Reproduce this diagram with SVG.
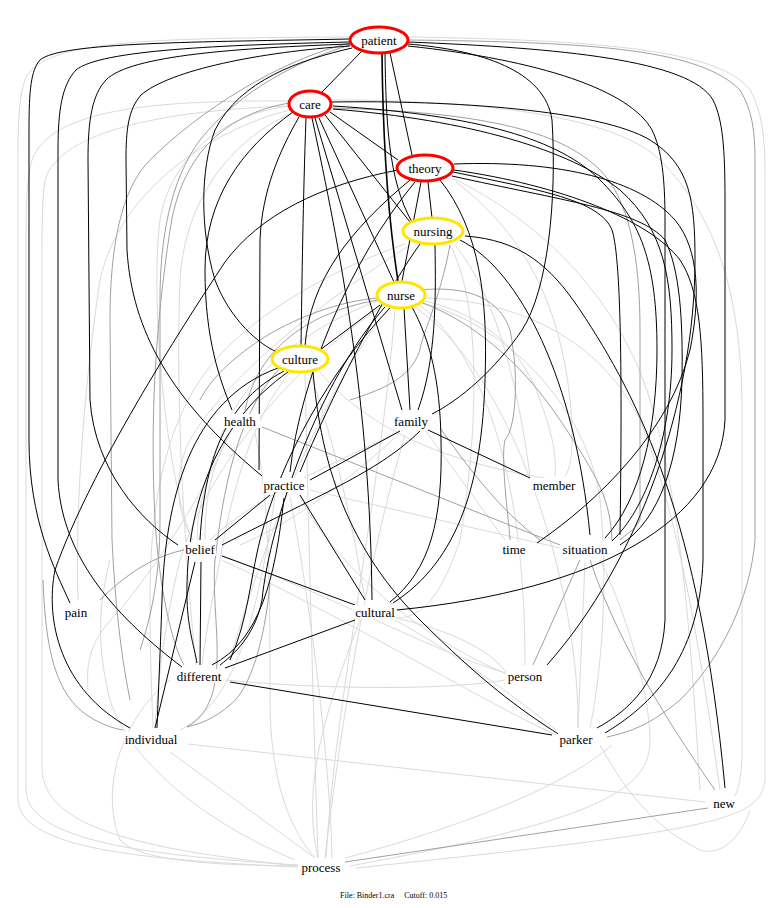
<svg xmlns="http://www.w3.org/2000/svg" width="780" height="908" viewBox="0 0 780 908">
<style>
.b{fill:none;stroke:#000;stroke-width:1}
.bb{fill:none;stroke:#000;stroke-width:1.6}
.g{fill:none;stroke:#a0a0a0;stroke-width:1}
.l{fill:none;stroke:#dadada;stroke-width:1}
.t{font-family:"Liberation Serif","Times New Roman",serif;font-size:13px;fill:#000;text-anchor:middle}
.red{fill:#fff;stroke:#f00;stroke-width:3}
.yel{fill:#fff;stroke:#ffe600;stroke-width:3}
.bg{fill:#fff}
</style>
<rect width="780" height="908" fill="#fff"/>
<g id="connectors">
<path class="l" d="M350,37 C150,38 40,40 25,80 C18,100 18,130 18,160 L18,800 C20,850 150,860 298,867"/>
<path class="l" d="M288,101 C150,100 50,110 32,160 C27,180 26,200 26,240 L26,790 C28,840 140,855 298,865"/>
<path class="l" d="M290,106 C170,110 60,130 45,180 C42,200 42,230 42,260 L42,770 C45,830 150,850 298,866"/>
<path class="l" d="M409,37 C600,40 720,50 750,90 C762,110 765,140 765,170 L765,780 C760,820 720,830 356,868"/>
<path class="l" d="M315,858 L170,752"/>
<path class="l" d="M188,744 L705,802"/>
<path class="l" d="M318,858 C315,760 310,600 305,372"/>
<path class="l" d="M326,858 C335,700 380,500 395,310"/>
<path class="l" d="M345,858 C450,830 560,790 612,745"/>
<path class="l" d="M295,860 C200,820 130,760 110,700 C95,640 100,600 110,560"/>
<path class="l" d="M310,490 L560,548"/>
<path class="l" d="M425,430 L505,540"/>
<path class="l" d="M420,305 C510,380 525,550 525,665"/>
<path class="l" d="M415,307 C520,380 580,600 578,728"/>
<path class="l" d="M585,562 L578,728"/>
<path class="l" d="M332,100 C500,100 620,120 660,160 C720,220 740,300 742,400 L742,760 C740,790 735,795 734,798"/>
<path class="l" d="M289,106 C220,115 170,160 160,220 C150,300 165,470 192,540"/>
<path class="l" d="M290,110 C210,130 120,190 100,280 C85,380 75,500 78,600"/>
<path class="l" d="M292,113 C230,140 185,200 180,280 C175,400 185,560 196,665"/>
<path class="l" d="M420,300 C470,310 520,340 540,400 C555,440 556,460 555,476"/>
<path class="l" d="M425,298 C520,300 600,340 640,420 C680,520 700,650 720,790"/>
<path class="l" d="M423,303 C520,330 590,420 600,500 C610,600 598,690 590,728"/>
<path class="l" d="M380,300 C300,330 240,380 220,440 C200,500 196,520 198,540"/>
<path class="l" d="M390,307 C330,380 270,520 230,660"/>
<path class="l" d="M384,305 C300,360 210,460 180,560 C165,620 158,680 155,728"/>
<path class="l" d="M405,435 C380,520 350,650 325,858"/>
<path class="l" d="M400,433 C360,470 300,520 240,545"/>
<path class="l" d="M395,434 C340,460 250,500 210,540"/>
<path class="l" d="M300,496 C330,560 420,640 510,675"/>
<path class="l" d="M220,555 C320,590 430,650 505,673"/>
<path class="l" d="M222,560 C350,620 480,700 556,735"/>
<path class="l" d="M225,680 C330,690 450,690 505,680"/>
<path class="l" d="M170,680 C120,720 100,790 120,840 C140,860 200,865 298,866"/>
<path class="l" d="M395,620 C450,650 520,700 556,730"/>
<path class="l" d="M395,618 C450,630 490,650 506,672"/>
<path class="l" d="M255,433 C270,500 270,600 270,700 C270,780 290,830 315,858"/>
<path class="l" d="M230,433 C200,500 160,560 120,610 C90,640 86,660 88,690"/>
<path class="l" d="M600,560 C630,620 650,700 650,740 C650,790 600,820 350,866"/>
<path class="l" d="M320,372 C360,420 430,460 545,478"/>
<path class="l" d="M455,245 C500,300 520,400 530,476"/>
<path class="l" d="M450,245 C480,300 480,420 460,540 C440,600 420,620 392,618"/>
<path class="l" d="M456,182 C520,230 560,300 570,400 C575,450 570,470 565,476"/>
<path class="l" d="M452,178 C540,220 620,300 650,400 C680,500 690,620 700,790"/>
<path class="l" d="M410,245 C340,290 230,370 190,440 C170,480 180,520 193,540"/>
<path class="l" d="M405,244 C330,270 240,320 200,380 C160,440 150,520 150,600 C150,660 152,700 153,728"/>
<path class="l" d="M290,372 C250,420 230,500 220,560 C210,610 205,640 202,665"/>
<path class="l" d="M310,372 C340,460 355,540 365,600"/>
<path class="l" d="M230,432 C210,470 205,500 205,540"/>
<path class="l" d="M275,496 C260,600 240,700 180,730"/>
<path class="l" d="M290,497 C310,600 330,760 332,858"/>
<path class="l" d="M360,620 C330,700 300,780 318,858"/>
<path class="l" d="M600,745 C630,800 660,830 700,850 C720,856 740,840 750,810"/>
<path class="g" d="M345,862 L708,808"/>
<path class="g" d="M262,427 L560,545"/>
<path class="g" d="M590,560 C620,650 680,740 715,790"/>
<path class="g" d="M580,560 L533,665"/>
<path class="g" d="M408,40 C600,42 700,50 740,90 C752,110 755,130 755,160 L755,540 C750,600 720,660 680,700 C650,725 630,732 607,737"/>
<path class="g" d="M350,43 C280,60 200,110 150,160 C120,190 110,250 110,320 L112,540 C115,600 120,650 130,700"/>
<path class="g" d="M350,45 C300,60 240,90 200,140 C170,180 160,240 160,300 L160,520 C160,580 150,620 140,650"/>
<path class="g" d="M289,103 C220,115 180,160 170,230 C155,330 150,420 155,520 C160,600 175,650 184,665"/>
<path class="g" d="M378,300 C320,310 260,340 245,410"/>
<path class="g" d="M380,298 C340,300 290,320 260,340 C230,360 210,380 200,400"/>
<path class="g" d="M420,290 C470,285 500,300 510,330 C520,380 515,430 505,440 C500,460 510,530 510,540"/>
<path class="g" d="M420,302 C470,320 520,360 560,420 C600,480 610,500 612,540"/>
<path class="g" d="M440,428 C470,470 500,510 540,540"/>
<path class="g" d="M332,108 C480,112 560,130 600,170 C630,200 640,260 640,330 L640,520 C635,530 625,535 620,540"/>
<path class="g" d="M280,368 C230,420 220,520 215,560 C210,620 235,700 187,727"/>
<path class="g" d="M43,580 C45,630 50,680 77,707 C90,720 110,728 123,730"/>
<path class="g" d="M270,583 C265,640 250,690 230,705 C215,718 200,724 187,727"/>
<path class="g" d="M212,548 C160,545 120,580 100,600"/>
<path class="g" d="M450,245 C440,300 420,340 420,350 C410,380 380,390 350,400"/>
</g>
<g id="connectors-strong">
<path class="b" d="M362,51 L322,92"/>
<path class="b" d="M350,39 C200,42 60,42 40,60 C31,70 29,90 29,130 L29,440 C29,520 55,570 70,603"/>
<path class="b" d="M350,42 C220,45 100,50 76,70 C62,85 58,110 58,150 L58,480 C62,560 120,620 182,667"/>
<path class="b" d="M350,44 C240,48 130,55 106,80 C92,95 88,120 88,160 L90,400 C95,470 140,520 178,545"/>
<path class="b" d="M350,46 C260,52 170,70 141,95 C128,110 126,130 126,160 L127,250 C132,330 170,400 262,476"/>
<path class="b" d="M352,48 C300,60 240,80 215,130 C200,170 200,230 215,280 C230,320 260,345 277,352"/>
<path class="b" d="M390,53 L412,155"/>
<path class="b" d="M385,54 C386,120 388,180 412,222"/>
<path class="bb" d="M382,54 C383,150 390,230 398,281"/>
<path class="b" d="M408,44 C480,50 545,70 552,120 C557,200 548,290 522,330 C495,370 460,400 432,414"/>
<path class="b" d="M408,42 C560,48 690,60 713,100 C723,120 725,150 725,200 L725,420 C720,520 600,590 397,610"/>
<path class="b" d="M408,46 C540,60 630,90 652,130 C662,150 665,180 665,220 L665,620 C662,680 630,710 597,728"/>
<path class="b" d="M332,102 C450,100 600,110 650,140 C690,165 695,200 695,260 C695,400 640,560 547,665"/>
<path class="b" d="M330,112 L398,160"/>
<path class="b" d="M325,115 L410,222"/>
<path class="b" d="M319,118 L394,282"/>
<path class="b" d="M306,118 C303,200 302,280 301,346"/>
<path class="b" d="M299,117 C280,150 262,190 260,240 L259,470"/>
<path class="b" d="M293,112 C240,150 205,200 205,270 C205,340 220,380 232,410"/>
<path class="b" d="M315,118 L402,410"/>
<path class="b" d="M312,118 C340,250 370,400 372,600"/>
<path class="b" d="M333,106 C480,115 560,140 600,180 C640,220 657,260 657,350 C657,430 640,500 605,538"/>
<path class="b" d="M333,109 C470,120 570,150 620,190 C665,230 672,280 672,350 C672,440 645,510 612,541"/>
<path class="b" d="M398,170 C320,185 260,215 225,262 C180,330 90,470 55,570 C45,620 60,690 130,728"/>
<path class="b" d="M410,180 C350,230 310,280 305,346"/>
<path class="b" d="M415,182 C350,260 300,380 290,472"/>
<path class="b" d="M421,182 L402,281"/>
<path class="b" d="M428,182 L432,218"/>
<path class="b" d="M440,180 C480,230 488,300 485,380 C482,480 460,560 393,603"/>
<path class="b" d="M453,172 C540,190 600,200 612,230 C622,260 622,400 620,535"/>
<path class="b" d="M452,176 C560,200 640,210 665,240 C680,270 683,320 682,380 C680,460 660,520 620,545"/>
<path class="b" d="M454,170 C560,185 650,220 680,260 C700,290 703,340 703,420 L703,560 C700,650 660,700 605,733"/>
<path class="b" d="M454,164 C560,160 640,180 675,220 C700,250 700,300 690,350 C670,430 600,500 537,543"/>
<path class="b" d="M465,236 C520,240 550,265 580,310 C640,400 700,520 725,788"/>
<path class="b" d="M460,240 C520,270 575,380 590,535"/>
<path class="b" d="M435,245 C436,300 436,360 418,410"/>
<path class="b" d="M420,244 C380,300 330,400 300,472"/>
<path class="b" d="M380,305 L320,350"/>
<path class="b" d="M404,308 L410,410"/>
<path class="b" d="M412,307 C430,340 440,380 441,440 C443,520 430,570 390,602"/>
<path class="b" d="M385,307 C320,380 270,520 262,600 C256,630 240,650 220,665"/>
<path class="b" d="M390,308 C330,370 280,460 260,540 C250,580 248,620 230,660"/>
<path class="b" d="M284,371 C230,400 205,450 200,540"/>
<path class="b" d="M288,372 C220,420 185,500 187,600 C188,630 195,650 197,663"/>
<path class="b" d="M278,368 C190,400 165,500 162,600 C160,660 158,700 157,728"/>
<path class="b" d="M313,372 C320,450 340,540 420,620 C480,680 520,710 560,735"/>
<path class="b" d="M428,430 L530,478"/>
<path class="b" d="M420,431 C380,470 330,490 222,545"/>
<path class="b" d="M400,431 L310,480"/>
<path class="b" d="M270,495 L215,540"/>
<path class="b" d="M300,495 L365,600"/>
<path class="b" d="M284,498 C275,580 260,640 212,665"/>
<path class="b" d="M222,556 L355,605"/>
<path class="b" d="M201,562 L200,665"/>
<path class="b" d="M195,562 L155,728"/>
<path class="b" d="M355,620 L225,668"/>
<path class="b" d="M230,682 L552,735"/>
</g>
<g id="node-patient"><ellipse class="red" cx="379" cy="40" rx="29" ry="13"/><text class="t" x="379" y="44.5">patient</text></g>
<g id="node-care"><ellipse class="red" cx="310" cy="104" rx="21" ry="13"/><text class="t" x="310" y="108.5">care</text></g>
<g id="node-theory"><ellipse class="red" cx="425" cy="168" rx="28" ry="13"/><text class="t" x="425" y="172.5">theory</text></g>
<g id="node-nursing"><ellipse class="yel" cx="433" cy="231" rx="30" ry="13"/><text class="t" x="433" y="235.5">nursing</text></g>
<g id="node-nurse"><ellipse class="yel" cx="401" cy="295" rx="24" ry="13"/><text class="t" x="401" y="299.5">nurse</text></g>
<g id="node-culture"><ellipse class="yel" cx="300" cy="359" rx="28" ry="13"/><text class="t" x="300" y="363.5">culture</text></g>
<g id="node-health"><rect class="bg" x="220" y="414" width="40" height="14"/><text class="t" x="240" y="426">health</text></g>
<g id="node-family"><rect class="bg" x="392" y="414" width="38" height="14"/><text class="t" x="411" y="426">family</text></g>
<g id="node-member"><rect class="bg" x="530" y="478" width="48" height="14"/><text class="t" x="554" y="490">member</text></g>
<g id="node-practice"><rect class="bg" x="263" y="478" width="42" height="14"/><text class="t" x="284" y="490">practice</text></g>
<g id="node-belief"><rect class="bg" x="184" y="542" width="32" height="14"/><text class="t" x="200" y="554">belief</text></g>
<g id="node-time"><rect class="bg" x="501" y="542" width="26" height="14"/><text class="t" x="514" y="554">time</text></g>
<g id="node-situation"><rect class="bg" x="561" y="542" width="48" height="14"/><text class="t" x="585" y="554">situation</text></g>
<g id="node-pain"><rect class="bg" x="64" y="605" width="24" height="14"/><text class="t" x="76" y="617">pain</text></g>
<g id="node-cultural"><rect class="bg" x="354" y="605" width="42" height="14"/><text class="t" x="375" y="617">cultural</text></g>
<g id="node-different"><rect class="bg" x="175" y="669" width="48" height="14"/><text class="t" x="199" y="681">different</text></g>
<g id="node-person"><rect class="bg" x="506" y="669" width="38" height="14"/><text class="t" x="525" y="681">person</text></g>
<g id="node-individual"><rect class="bg" x="124" y="732" width="54" height="14"/><text class="t" x="151" y="744">individual</text></g>
<g id="node-parker"><rect class="bg" x="558" y="732" width="36" height="14"/><text class="t" x="576" y="744">parker</text></g>
<g id="node-new"><rect class="bg" x="711" y="796" width="26" height="14"/><text class="t" x="724" y="808">new</text></g>
<g id="node-process"><rect class="bg" x="300" y="860" width="42" height="14"/><text class="t" x="321" y="872">process</text></g>
<text x="340" y="898" font-family="Liberation Serif, serif" font-size="8" fill="#000" xml:space="preserve">File: Binder1.cra     Cutoff: 0.015</text>
</svg>
